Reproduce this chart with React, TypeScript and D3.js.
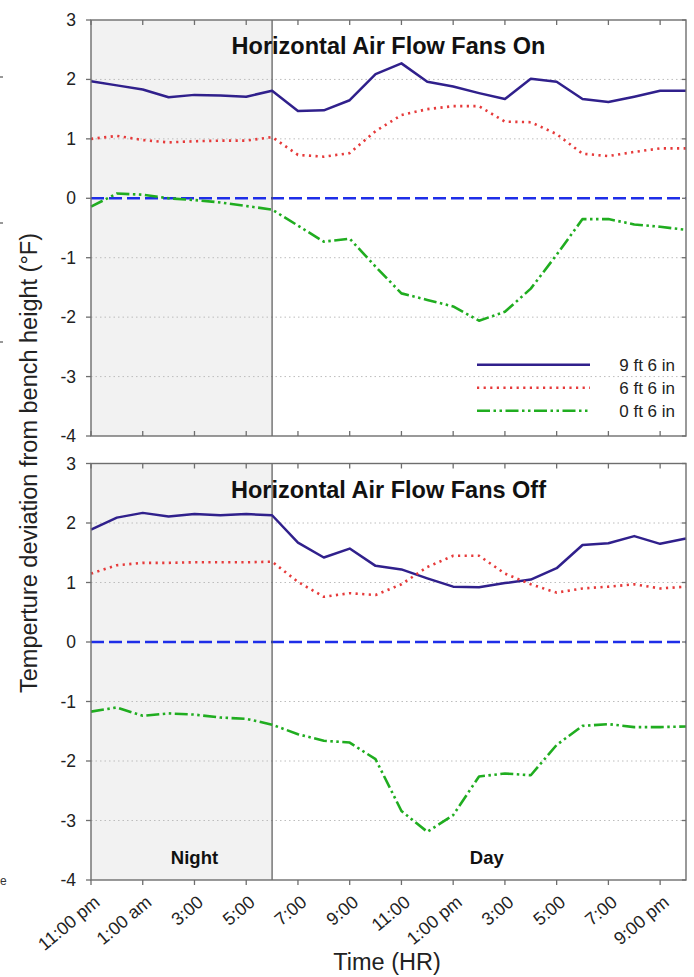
import React from 'react';
import * as d3 from 'd3';

// ---------- data ----------
const hours = d3.range(24); // hourly readings, 0 = 11:00 pm
const tickHours = [0, 2, 4, 6, 8, 10, 12, 14, 16, 18, 20, 22];
const tickLabels = ['11:00 pm', '1:00 am', '3:00', '5:00', '7:00', '9:00', '11:00', '1:00 pm', '3:00', '5:00', '7:00', '9:00 pm'];
const yTicks = [3, 2, 1, 0, -1, -2, -3, -4];
const gridValues = [2, 1, -1, -2, -3];
const seriesNames = ['9 ft 6 in', '6 ft 6 in', '0 ft 6 in'];
const panelTitles = ['Horizontal Air Flow Fans On', 'Horizontal Air Flow Fans Off'];
const nightEnd = 7;
const nightLabelHour = 4;
const dayLabelHour = 15.3;

const fansOn9 = [1.97, 1.90, 1.83, 1.70, 1.74, 1.73, 1.71, 1.81, 1.47, 1.48, 1.65, 2.09, 2.27, 1.96, 1.88, 1.77, 1.67, 2.01, 1.96, 1.67, 1.62, 1.71, 1.81, 1.81];
const fansOn6 = [1.00, 1.05, 0.98, 0.94, 0.96, 0.97, 0.97, 1.03, 0.73, 0.70, 0.76, 1.13, 1.40, 1.50, 1.55, 1.55, 1.29, 1.28, 1.08, 0.75, 0.71, 0.78, 0.84, 0.84];
const fansOn0 = [-0.14, 0.08, 0.06, 0.00, -0.03, -0.07, -0.13, -0.19, -0.46, -0.73, -0.68, -1.15, -1.60, -1.71, -1.82, -2.06, -1.91, -1.52, -0.95, -0.35, -0.35, -0.44, -0.48, -0.53];

const fansOff9 = [1.89, 2.09, 2.17, 2.11, 2.15, 2.13, 2.15, 2.13, 1.67, 1.42, 1.57, 1.28, 1.22, 1.07, 0.93, 0.92, 0.99, 1.05, 1.24, 1.63, 1.66, 1.78, 1.65, 1.74];
const fansOff6 = [1.15, 1.29, 1.33, 1.33, 1.34, 1.34, 1.34, 1.35, 1.01, 0.76, 0.82, 0.79, 0.97, 1.26, 1.45, 1.45, 1.15, 0.97, 0.83, 0.90, 0.93, 0.97, 0.90, 0.93];
const fansOff0 = [-1.17, -1.10, -1.24, -1.20, -1.22, -1.27, -1.29, -1.39, -1.55, -1.66, -1.69, -1.97, -2.84, -3.19, -2.91, -2.26, -2.21, -2.24, -1.73, -1.41, -1.38, -1.43, -1.43, -1.42];

// ---------- layout ----------
const W = 694;
const H = 977;
const FONT = 'Liberation Sans, Arial, Helvetica, sans-serif';

const styles = [
  { color: '#30208c', width: 2.5, dash: undefined as string | undefined },
  { color: '#e63a3a', width: 2.6, dash: '2.2,4.4' },
  { color: '#20ad20', width: 2.6, dash: '13,3.5,2.5,3.5,2.5,3.5' },
];

const x = d3.scaleLinear().domain([0, 23]).range([91, 686]);

const panels = [
  { title: panelTitles[0], series: [fansOn9, fansOn6, fansOn0], top: 20, bottom: 436, legend: true, bottomTicksOut: false },
  { title: panelTitles[1], series: [fansOff9, fansOff6, fansOff0], top: 463.5, bottom: 880, legend: false, bottomTicksOut: true },
];

function Panel({ p, idx }: { p: any; idx: number }) {
  const y = d3.scaleLinear().domain([-4, 3]).range([p.bottom, p.top]);
  const x0 = x(0);
  const x1 = x(23);
  const line = d3.line<number>().x((_, i) => x(hours[i])).y((d) => y(d));
  const frameColor = '#6e6e6e';
  return (
    <g>
      <rect x={x0} y={p.top} width={x(nightEnd) - x0} height={p.bottom - p.top} fill="#f2f2f2" />
      {gridValues.map((v) => (
        <line key={v} x1={x0} x2={x1} y1={y(v)} y2={y(v)} stroke="#bdbdbd" strokeWidth={1} strokeDasharray="1.5,3" />
      ))}
      <line x1={x0} x2={x1} y1={y(0)} y2={y(0)} stroke="#1e2ee8" strokeWidth={2.6} strokeDasharray="13,5" />
      <line x1={x(nightEnd)} x2={x(nightEnd)} y1={p.top} y2={p.bottom} stroke="#555" strokeWidth={1.2} />
      {p.series.map((s: number[], i: number) => (
        <path key={i} d={line(s) || ''} fill="none" stroke={styles[i].color} strokeWidth={styles[i].width}
          strokeDasharray={styles[i].dash} strokeLinejoin="round" />
      ))}
      <rect x={x0} y={p.top} width={x1 - x0} height={p.bottom - p.top} fill="none" stroke={frameColor} strokeWidth={1.4} />
      {tickHours.map((h) => (
        <g key={h}>
          <line x1={x(h)} x2={x(h)} y1={p.top} y2={p.top + 5} stroke={frameColor} strokeWidth={1.3} />
          {p.bottomTicksOut ? (
            <line x1={x(h)} x2={x(h)} y1={p.bottom} y2={p.bottom + 5} stroke={frameColor} strokeWidth={1.3} />
          ) : (
            <line x1={x(h)} x2={x(h)} y1={p.bottom} y2={p.bottom - 5} stroke={frameColor} strokeWidth={1.3} />
          )}
        </g>
      ))}
      {yTicks.map((v) => (
        <g key={v}>
          <line x1={x0 - 5} x2={x0} y1={y(v)} y2={y(v)} stroke={frameColor} strokeWidth={1.3} />
          <line x1={x1 - 4} x2={x1} y1={y(v)} y2={y(v)} stroke={frameColor} strokeWidth={1.3} />
          <text x={76} y={y(v) + 6} textAnchor="end" fontSize={17.5} fontFamily={FONT} fill="#222">
            {v < 0 ? '-' + Math.abs(v) : String(v)}
          </text>
        </g>
      ))}
      <text x={(x0 + x1) / 2} y={p.top + 34} textAnchor="middle" fontSize={23.5} fontWeight="bold" fontFamily={FONT} fill="#111">
        {p.title}
      </text>
      {p.legend && seriesNames.map((n, i) => {
        const ly = y(-2.8) + i * 23;
        return (
          <g key={n}>
            <line x1={477} x2={590} y1={ly} y2={ly} stroke={styles[i].color} strokeWidth={styles[i].width} strokeDasharray={styles[i].dash} />
            <text x={675} y={ly + 6} textAnchor="end" fontSize={17} fontFamily={FONT} fill="#222">{n}</text>
          </g>
        );
      })}
      {idx === 1 && (
        <g>
          <text x={x(nightLabelHour)} y={y(-3.73)} textAnchor="middle" fontSize={18.5} fontWeight="bold" fontFamily={FONT} fill="#111">Night</text>
          <text x={x(dayLabelHour)} y={y(-3.73)} textAnchor="middle" fontSize={18.5} fontWeight="bold" fontFamily={FONT} fill="#111">Day</text>
          {tickHours.map((h, i) => (
            <text key={h} transform={`translate(${x(h) + 10},${p.bottom + 24}) rotate(-40)`} textAnchor="end"
              fontSize={18} fontFamily={FONT} fill="#222">{tickLabels[i]}</text>
          ))}
        </g>
      )}
    </g>
  );
}

export default function App() {
  return (
    <svg width={W} height={H} viewBox={`0 0 ${W} ${H}`} style={{ position: 'absolute', left: 0, top: 0, background: '#fff' }}>
      <rect x={0} y={0} width={W} height={H} fill="#fff" />
      {panels.map((p, i) => <Panel key={i} p={p} idx={i} />)}
      <text transform={`translate(37,463) rotate(-90)`} textAnchor="middle" fontSize={23.5} fontFamily={FONT} fill="#222">
        Temperture deviation from bench height (°F)
      </text>
      <text x={387} y={970} textAnchor="middle" fontSize={23.5} fontFamily={FONT} fill="#222">Time (HR)</text>
      <line x1={0} x2={3} y1={77} y2={77} stroke="#333" strokeWidth={1} />
      <line x1={0} x2={3} y1={223} y2={223} stroke="#333" strokeWidth={1} />
      <line x1={0} x2={3} y1={342} y2={342} stroke="#333" strokeWidth={1} />
      <text x={0} y={885} fontSize={12} fontFamily={FONT} fill="#333">e</text>
    </svg>
  );
}
